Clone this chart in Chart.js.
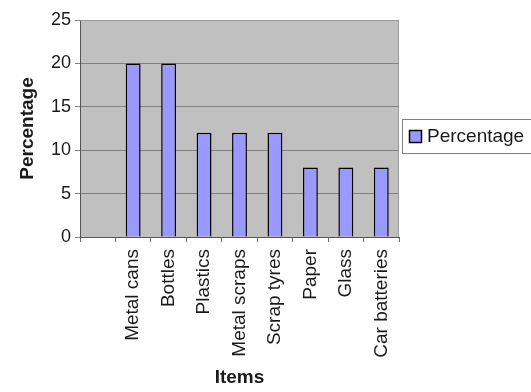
<!DOCTYPE html>
<html>
<head>
<meta charset="utf-8">
<script src="https://cdn.jsdelivr.net/npm/chart.js@4/dist/chart.umd.min.js"></script>
<style>
  html, body { margin: 0; padding: 0; background: #ffffff; }
  #wrap { width: 531px; height: 392px; }
</style>
</head>
<body>
<div id="wrap"><canvas id="chart" width="531" height="392"></canvas></div>
<script>
// Items collected for recycling (first slot left blank on the axis)
const categories = ["", "Metal cans", "Bottles", "Plastics", "Metal scraps", "Scrap tyres", "Paper", "Glass", "Car batteries"];
const percentages = [null, 20, 20, 12, 12, 12, 8, 8, 8];
const yTicks = [0, 5, 10, 15, 20, 25];
const seriesName = "Percentage";

const FONT = "'Liberation Sans', Arial, sans-serif";
const BAR_FILL = "#9999ff";

// Grey plot area with a thin outline
const plotBackground = {
  id: "plotBackground",
  beforeDraw(chart) {
    const { ctx, chartArea: a } = chart;
    ctx.save();
    ctx.fillStyle = "#c0c0c0";
    ctx.fillRect(a.left, a.top, a.right - a.left, a.bottom - a.top);
    ctx.restore();
  },
  afterDatasetsDraw(chart) {
    const { ctx, chartArea: a } = chart;
    ctx.save();
    ctx.strokeStyle = "#9a9a9a";
    ctx.lineWidth = 1;
    ctx.beginPath();
    ctx.moveTo(a.left, a.top + 0.5);
    ctx.lineTo(a.right - 0.5, a.top + 0.5);
    ctx.lineTo(a.right - 0.5, a.bottom);
    ctx.stroke();
    ctx.restore();
  }
};

// Boxed legend to the right of the plot
const boxedLegend = {
  id: "boxedLegend",
  afterDraw(chart) {
    const { ctx } = chart;
    const label = chart.data.datasets[0].label;
    ctx.save();
    ctx.strokeStyle = "#808080";
    ctx.lineWidth = 1;
    ctx.strokeRect(402.5, 119.5, 140, 34);
    ctx.fillStyle = BAR_FILL;
    ctx.fillRect(409.5, 130.5, 12, 12);
    ctx.strokeStyle = "#000000";
    ctx.lineWidth = 1.5;
    ctx.strokeRect(409.5, 130.5, 12, 12);
    ctx.fillStyle = "#1a1a1a";
    ctx.font = "19px " + FONT;
    ctx.textBaseline = "middle";
    ctx.textAlign = "left";
    ctx.fillText(label, 427, 137);
    ctx.restore();
  }
};

new Chart(document.getElementById("chart"), {
  type: "bar",
  data: {
    labels: categories,
    datasets: [{
      label: seriesName,
      data: percentages,
      backgroundColor: BAR_FILL,
      borderColor: "#000000",
      borderWidth: 1.5,
      categoryPercentage: 1.0,
      barPercentage: 0.42
    }]
  },
  options: {
    responsive: false,
    animation: false,
    devicePixelRatio: 1,
    layout: { padding: { top: 20, right: 132, left: 0, bottom: 0 } },
    plugins: {
      legend: { display: false },
      tooltip: { enabled: false }
    },
    scales: {
      x: {
        offset: true,
        afterFit(scale) { scale.height = 155; },
        grid: {
          drawOnChartArea: false,
          drawTicks: true,
          tickLength: 5,
          color: "#707070",
          offset: true
        },
        border: { color: "#555555", width: 1 },
        ticks: {
          autoSkip: false,
          minRotation: 90,
          maxRotation: 90,
          padding: 7,
          color: "#1a1a1a",
          font: { family: FONT, size: 19 }
        },
        title: {
          display: true,
          text: "Items",
          color: "#1a1a1a",
          font: { family: FONT, size: 19, weight: "bold" },
          padding: { top: 0, bottom: 3 }
        }
      },
      y: {
        min: 0,
        max: 25,
        afterFit(scale) { scale.width = 80; },
        afterBuildTicks(scale) { scale.ticks = yTicks.map(v => ({ value: v })); },
        grid: {
          color: "#808080",
          lineWidth: 1,
          tickLength: 5,
          drawTicks: true
        },
        border: { color: "#555555", width: 1 },
        ticks: {
          padding: 4,
          color: "#1a1a1a",
          font: { family: FONT, size: 18 }
        },
        title: {
          display: true,
          text: "Percentage",
          color: "#1a1a1a",
          font: { family: FONT, size: 19, weight: "bold" },
          padding: { top: 16, bottom: 0 }
        }
      }
    }
  },
  plugins: [plotBackground, boxedLegend]
});
</script>
</body>
</html>
